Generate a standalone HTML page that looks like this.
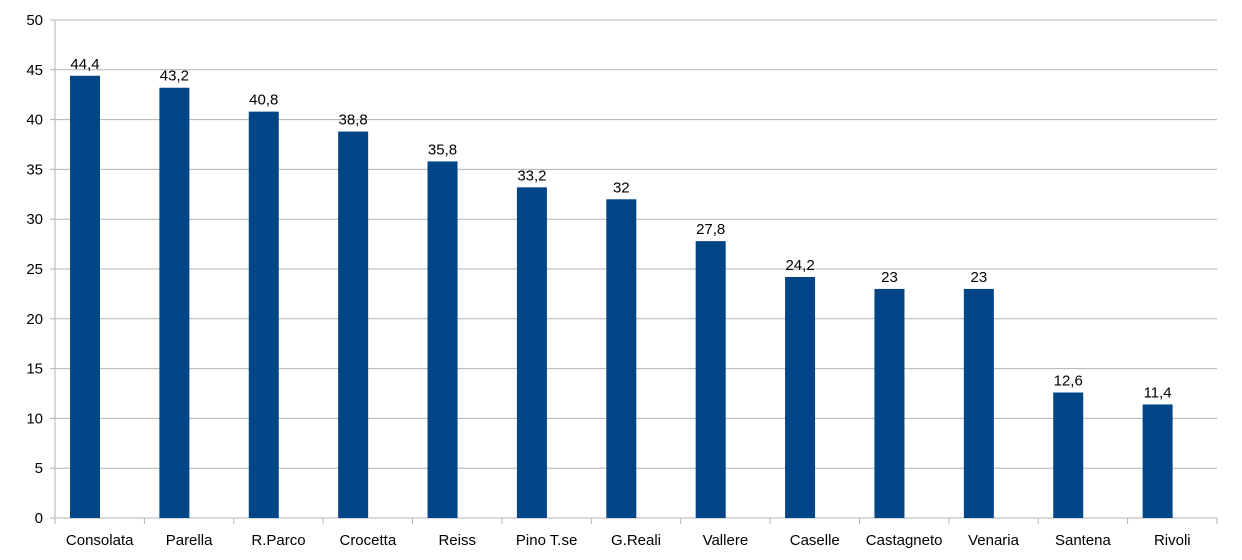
<!DOCTYPE html>
<html><head><meta charset="utf-8"><style>
body{margin:0;background:#fff;}
svg{display:block;font-family:"Liberation Sans",sans-serif;}
</style></head><body>
<svg id="chart" width="1242" height="560" viewBox="0 0 1242 560"></svg>
<script>
const categories=["Consolata","Parella","R.Parco","Crocetta","Reiss","Pino T.se","G.Reali","Vallere","Caselle","Castagneto","Venaria","Santena","Rivoli"];
const values=[44.4,43.2,40.8,38.8,35.8,33.2,32,27.8,24.2,23,23,12.6,11.4];
const labels=["44,4","43,2","40,8","38,8","35,8","33,2","32","27,8","24,2","23","23","12,6","11,4"];
const yTicks=[0,5,10,15,20,25,30,35,40,45,50];
const svg=document.getElementById('chart');
const NS="http://www.w3.org/2000/svg";
const L=55,R=1217,T=20,B=518,yMax=50;
const y=v=>B-(v/yMax)*(B-T);
const cw=(R-L)/categories.length;
const x=i=>L+i*cw;
function mk(tag,attrs){const e=document.createElementNS(NS,tag);for(const k in attrs)e.setAttribute(k,attrs[k]);svg.appendChild(e);return e;}
yTicks.forEach(t=>{
  const g=mk('line',{x1:L-5,x2:R,y1:y(t),y2:y(t),stroke:'#b3b3b3','stroke-width':1});
  
  
  const tx=mk('text',{x:43,y:y(t)+5,'text-anchor':'end','font-size':15,fill:'#000'});
  tx.textContent=t;
  
  
});
const ax=mk('line',{x1:L,x2:L,y1:T,y2:B,stroke:'#b3b3b3'});


for(let i=0;i<=categories.length;i++){
  const tk=mk('line',{x1:x(i),x2:x(i),y1:B,y2:B+6,stroke:'#b3b3b3'});
  
  
}
categories.forEach((c,i)=>{
  const bx=x(i)+15;
  const r=mk('rect',{x:bx,y:y(values[i]),width:30,height:B-y(values[i]),fill:'#004586'});
  
  
  const vl=mk('text',{x:bx+15,y:y(values[i])-7,'text-anchor':'middle','font-size':15,fill:'#000'});
  vl.textContent=labels[i];
  
  
  const cl=mk('text',{x:x(i)+cw/2,y:545,'text-anchor':'middle','font-size':15,fill:'#000'});
  cl.textContent=c;
  
  
});
</script>
</body></html>
